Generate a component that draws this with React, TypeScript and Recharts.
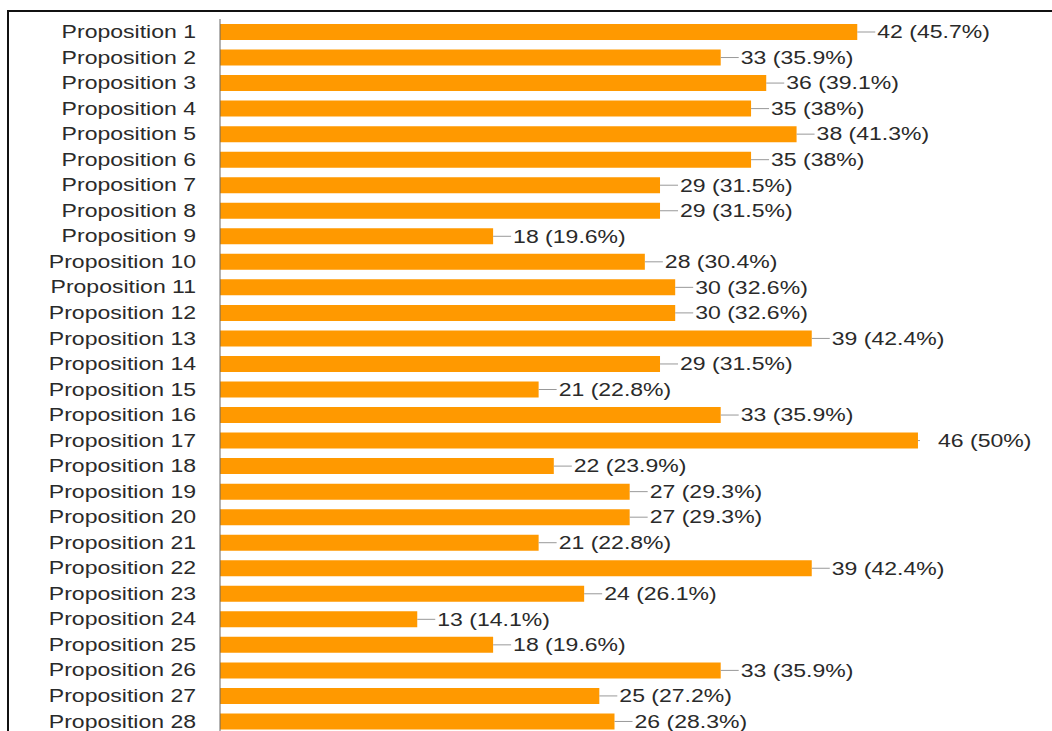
import React from 'react';
import { BarChart, Bar, XAxis, YAxis, LabelList } from 'recharts';

const PROPOSITIONS = Array.from({ length: 28 }, (_, i) => `Proposition ${i + 1}`);
const COUNTS = [42, 33, 36, 35, 38, 35, 29, 29, 18, 28, 30, 30, 39, 29, 21, 33, 46, 22, 27, 27, 21, 39, 24, 13, 18, 33, 25, 26];
const PERCENTS = ['45.7', '35.9', '39.1', '38', '41.3', '38', '31.5', '31.5', '19.6', '30.4', '32.6', '32.6', '42.4', '31.5', '22.8', '35.9', '50', '23.9', '29.3', '29.3', '22.8', '42.4', '26.1', '14.1', '19.6', '35.9', '27.2', '28.3'];

const rows = PROPOSITIONS.map((name, i) => ({ name, count: COUNTS[i], pct: PERCENTS[i] }));
const maxCount = Math.max(...COUNTS);

const FONT = '"Liberation Sans", Arial, sans-serif';
const STRETCH = 1.28;

function NameTick(props: any) {
  const { x, y, payload } = props;
  return (
    <g transform={`translate(${x},${y}) scale(${STRETCH},1)`}>
      <text x={0} y={0} dy="0.35em" textAnchor="end" fontFamily={FONT} fontSize={18} fill="#2a2a2a">
        {payload.value}
      </text>
    </g>
  );
}

// leader line + "count (pct%)" to the right of each bar; the longest bar gets only a stub
function ValueLabel(props: any) {
  const { x, y, width, height, index } = props;
  const row = rows[index];
  const end = x + width;
  const cy = y + height / 2;
  const isMax = row.count === maxCount;
  return (
    <g>
      <line x1={end} x2={end + (isMax ? 2 : 18)} y1={cy} y2={cy} stroke="#999" strokeWidth={1} />
      <g transform={`translate(${end + 20},${cy}) scale(${STRETCH},1)`}>
        <text x={0} y={0} dy="0.35em" textAnchor="start" fontFamily={FONT} fontSize={18} fill="#2a2a2a">
          {`${row.count} (${row.pct}%)`}
        </text>
      </g>
    </g>
  );
}

export default function App() {
  return (
    <div style={{ position: 'fixed', left: 0, top: 0, width: 1052, height: 731, overflow: 'hidden', background: '#fff' }}>
      <div
        style={{
          position: 'absolute',
          left: 7,
          top: 10,
          width: 2000,
          height: 2000,
          borderTop: '2px solid #111',
          borderLeft: '2px solid #111',
        }}
      />
      <div style={{ position: 'absolute', left: 0, top: 0 }}>
        <BarChart
          width={1052}
          height={745}
          data={rows}
          layout="vertical"
          margin={{ top: 19, right: 43, bottom: 11, left: 0 }}
        >
          <XAxis type="number" domain={[0, 52]} hide />
          <YAxis
            type="category"
            dataKey="name"
            width={220}
            tickLine={false}
            tickSize={0}
            tickMargin={24}
            axisLine={{ stroke: '#666', strokeWidth: 1 }}
            tick={<NameTick />}
            interval={0}
          />
          <Bar dataKey="count" fill="#FF9900" barSize={16} isAnimationActive={false}>
            <LabelList dataKey="count" content={<ValueLabel />} />
          </Bar>
        </BarChart>
      </div>
    </div>
  );
}
